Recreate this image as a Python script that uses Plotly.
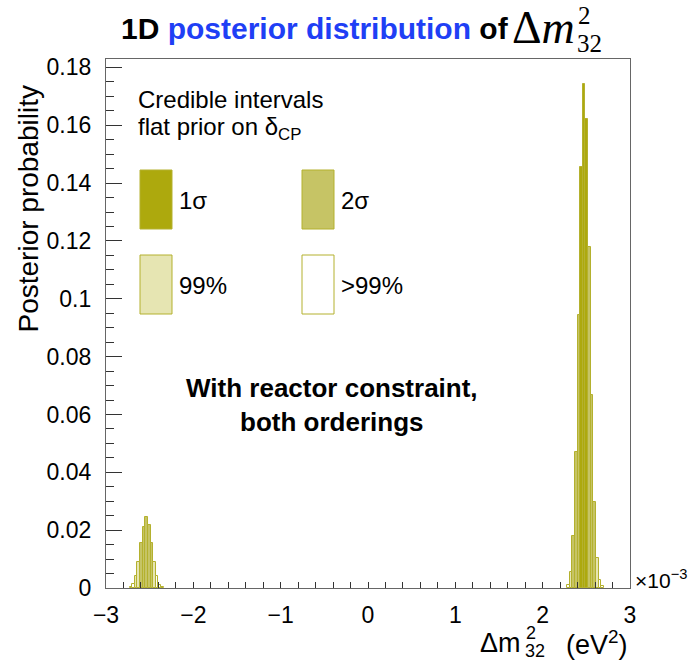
import plotly.graph_objects as go

# ---------------- data ----------------
bin_width = 0.03  # x 1e-3 eV^2

# inverted ordering peak (left)
io_left_edges = [-2.73, -2.70, -2.67, -2.64, -2.61, -2.58, -2.55, -2.52, -2.49, -2.46, -2.43, -2.40, -2.37]
io_posterior = [0.0005, 0.0015, 0.004, 0.009, 0.0155, 0.021, 0.0244, 0.0217, 0.0155, 0.009, 0.004, 0.0012, 0.0004]
io_interval = [">99%", ">99%", "99%", "99%", "2σ", "2σ", "2σ", "2σ", "2σ", "99%", ">99%", ">99%", ">99%"]

# normal ordering peak (right)
no_left_edges = [2.28, 2.31, 2.34, 2.37, 2.40, 2.43, 2.46, 2.49, 2.52, 2.55, 2.58, 2.61, 2.64, 2.67]
no_posterior = [0.001, 0.0054, 0.018, 0.047, 0.0944, 0.1454, 0.1743, 0.1621, 0.1179, 0.0669, 0.0296, 0.0103, 0.0029, 0.0008]
no_interval = [">99%", "99%", "2σ", "2σ", "2σ", "1σ", "1σ", "1σ", "2σ", "2σ", "2σ", "99%", ">99%", ">99%"]

interval_names = ["1σ", "2σ", "99%", ">99%"]
interval_fill = {"1σ": "#ADA90D", "2σ": "#C6C465", "99%": "#E6E5B2", ">99%": "#FFFFFF"}
line_col = "#B4B12E"

x_ticks = [-3, -2, -1, 0, 1, 2, 3]
x_ticktext = ["−3", "−2", "−1", "0", "1", "2", "3"]
y_ticks = [0, 0.02, 0.04, 0.06, 0.08, 0.1, 0.12, 0.14, 0.16, 0.18]
y_ticktext = ["0", "0.02", "0.04", "0.06", "0.08", "0.1", "0.12", "0.14", "0.16", "0.18"]

# ---------------- layout geometry (pixels) ----------------
W, H = 691, 661
L, R, T, B = 106, 630, 59, 588


def px(xp):
    return (xp - L) / (R - L)


def py(yp):
    return (B - yp) / (B - T)


fig = go.Figure()

all_edges = io_left_edges + no_left_edges
all_post = io_posterior + no_posterior
all_int = io_interval + no_interval

for name in interval_names:
    xs = [e + bin_width / 2 for e, i in zip(all_edges, all_int) if i == name]
    ys = [p for p, i in zip(all_post, all_int) if i == name]
    fig.add_trace(go.Bar(
        x=xs, y=ys, width=bin_width, name=name,
        marker=dict(color=interval_fill[name], line=dict(color=line_col, width=1)),
        showlegend=False,
    ))

FONT = "Liberation Sans, Arial, Helvetica, sans-serif"
SERIF = "Liberation Serif, Times New Roman, serif"

fig.update_layout(
    width=W, height=H,
    margin=dict(l=L, r=W - R, t=T, b=H - B),
    paper_bgcolor="white", plot_bgcolor="white",
    barmode="overlay", bargap=0,
    font=dict(family=FONT, color="black"),
    xaxis=dict(
        range=[-3, 3], tickmode="array", tickvals=x_ticks, ticktext=x_ticktext,
        ticks="inside", ticklen=6, tickcolor="#333", tickwidth=1,
        minor=dict(dtick=0.2, tick0=-3, ticks="inside", ticklen=6, tickcolor="#333", tickwidth=1),
        showline=True, linecolor="#666", linewidth=1.3, mirror=True,
        showgrid=False, zeroline=False,
        tickfont=dict(size=23, family=FONT), ticklabelstandoff=6,
    ),
    yaxis=dict(
        range=[0, 0.1829], tickmode="array", tickvals=y_ticks, ticktext=y_ticktext,
        ticks="inside", ticklen=16, tickcolor="#333", tickwidth=1,
        minor=dict(dtick=0.005, tick0=0, ticks="inside", ticklen=8, tickcolor="#333", tickwidth=1),
        showline=True, linecolor="#666", linewidth=1.3, mirror=True,
        showgrid=False, zeroline=False,
        tickfont=dict(size=23, family=FONT), ticklabelstandoff=9,
    ),
)


def add_text(x, y, text, size, xanchor="left", family=FONT, **kw):
    ann.append(dict(x=px(x), y=py(y), xref="paper", yref="paper", xanchor=xanchor,
                    yanchor="middle", text=text, showarrow=False,
                    font=dict(size=size, family=family, color=kw.pop("color", "black")), **kw))


ann = []
# title
add_text(119, 28, "<b>1D <span style='color:#1F3FF5'>posterior distribution</span> of</b>", 30)
add_text(510, 27, "Δ<i>m</i>", 46, family=SERIF)
add_text(576, 15, "2", 25, family=SERIF)
add_text(575, 44, "32", 25, family=SERIF)
# y title
ann.append(dict(x=px(28), y=py(84), xref="paper", yref="paper", xanchor="center", yanchor="top",
                text="Posterior probability", textangle=-90, showarrow=False,
                font=dict(size=28, family=FONT)))
# x title (stacked super/subscript as in the original)
add_text(523, 643, "Δm", 27, xanchor="right")
add_text(524, 633, "2", 18)
add_text(523, 651, "32", 18)
add_text(630, 643, "(eV<sup>2</sup>)", 27, xanchor="right")
# exponent
add_text(633, 579, "×10<sup>−3</sup>", 21)
# legend header
add_text(136, 100, "Credible intervals", 24)
add_text(136, 128, "flat prior on δ<sub>CP</sub>", 24)

# legend boxes
legend_pos = {"1σ": (140, 170), "2σ": (302, 170), "99%": (140, 255), ">99%": (302, 255)}
shapes = []
for name in interval_names:
    bx, by = legend_pos[name]
    shapes.append(dict(type="rect", xref="paper", yref="paper",
                       x0=px(bx), x1=px(bx + 32), y0=py(by), y1=py(by + 59),
                       fillcolor=interval_fill[name], line=dict(color=line_col, width=1)))
    add_text(bx + 37, by + 30, name, 24)

# central statement
add_text(332, 405, "<b>With reactor constraint,<br>both orderings</b>", 26, xanchor="center")

fig.update_layout(annotations=ann, shapes=shapes)
fig.write_html("out.html")
